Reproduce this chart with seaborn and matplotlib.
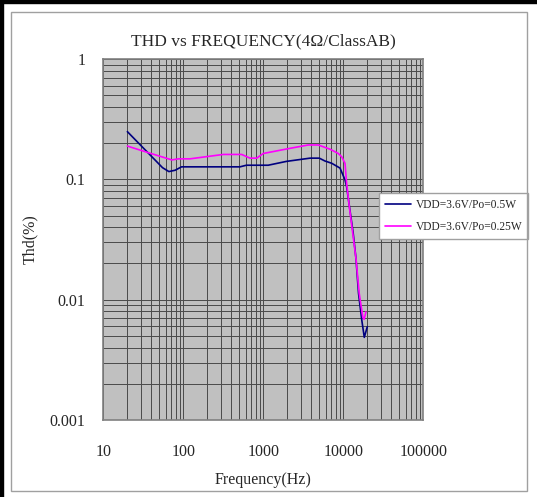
import numpy as np
import pandas as pd
import matplotlib
matplotlib.use("Agg")
import matplotlib.pyplot as plt
from matplotlib.patches import Rectangle
from matplotlib.ticker import LogLocator, FixedLocator, NullFormatter
import seaborn as sns

# data
freq_05w = [20, 35, 55, 66, 79, 95, 200, 511, 615, 1150, 1950, 3840, 5010, 5900,
            7160, 9100, 10500, 11000, 12100, 13300, 14400, 15500, 17000, 18300, 19950]
thd_05w = [0.249, 0.170, 0.125, 0.116, 0.119, 0.127, 0.127, 0.127, 0.131, 0.131, 0.141,
           0.150, 0.150, 0.142, 0.136, 0.124, 0.099, 0.087, 0.0556, 0.0356, 0.022,
           0.0113, 0.0068, 0.00486, 0.00596]

freq_025w = [20, 35, 72, 87, 121, 316, 537, 682, 827, 1000, 2160, 3650, 4870, 6820,
             8660, 9550, 10500, 11000, 11900, 13300, 14400, 15800, 17500, 18200, 19200]
thd_025w = [0.189, 0.168, 0.145, 0.148, 0.148, 0.161, 0.161, 0.150, 0.150, 0.164, 0.181,
            0.193, 0.193, 0.178, 0.164, 0.154, 0.136, 0.093, 0.059, 0.0333, 0.022,
            0.0113, 0.0072, 0.00686, 0.0079]

series_labels = ["VDD=3.6V/Po=0.5W", "VDD=3.6V/Po=0.25W"]
series_colors = ["#000080", "#FF00FF"]

x_ticks = [10, 100, 1000, 10000, 100000]
x_ticklabels = ["10", "100", "1000", "10000", "100000"]
y_ticks = [0.001, 0.01, 0.1, 1]
y_ticklabels = ["0.001", "0.01", "0.1", "1"]

df = pd.concat([
    pd.DataFrame({"freq": freq_05w, "thd": thd_05w, "series": series_labels[0]}),
    pd.DataFrame({"freq": freq_025w, "thd": thd_025w, "series": series_labels[1]}),
])

sns.set_style("white")
plt.rcParams["font.family"] = ["Liberation Serif", "DejaVu Serif"]

fig = plt.figure(figsize=(5.37, 4.97), dpi=100)
ax = fig.add_axes([103.3 / 537, 1 - 420 / 497, 320 / 537, 361 / 497])
ax.set_facecolor("#C0C0C0")

sns.lineplot(data=df, x="freq", y="thd", hue="series", palette=series_colors,
             sort=False, estimator=None, linewidth=1.2, ax=ax)

ax.set_xscale("log")
ax.set_yscale("log")
ax.set_xlim(10, 100000)
ax.set_ylim(0.001, 1)

ax.xaxis.set_major_locator(FixedLocator(x_ticks))
ax.set_xticklabels(x_ticklabels)
ax.yaxis.set_major_locator(FixedLocator(y_ticks))
ax.set_yticklabels(y_ticklabels)
ax.xaxis.set_minor_locator(LogLocator(base=10, subs=np.arange(2, 10)))
ax.yaxis.set_minor_locator(LogLocator(base=10, subs=np.arange(2, 10)))
ax.xaxis.set_minor_formatter(NullFormatter())
ax.yaxis.set_minor_formatter(NullFormatter())

ax.grid(True, which="both", color="#4a4a4a", linewidth=0.7)
ax.tick_params(which="both", length=0, labelsize=11.5)
ax.tick_params(axis="x", pad=17)
ax.tick_params(axis="y", pad=13)
for s in ax.spines.values():
    s.set_color("#808080")
    s.set_linewidth(1.2)

ax.set_title("THD vs FREQUENCY(4Ω/ClassAB)", fontsize=12.5, pad=10)
ax.set_xlabel("Frequency(Hz)", fontsize=11.5, labelpad=9)
ax.set_ylabel("Thd(%)", fontsize=11.5, labelpad=8)

leg = ax.legend(loc="upper left", bbox_to_anchor=(379 / 537, 1 - 193 / 497),
                bbox_transform=fig.transFigure, fontsize=8.3, frameon=True,
                fancybox=False, handlelength=2.3, borderpad=0.5, labelspacing=0.9,
                handletextpad=0.4, borderaxespad=0)
leg.get_frame().set_edgecolor("#A0A0A0")
leg.get_frame().set_facecolor("white")
leg.get_frame().set_alpha(1)

# outer frame of the chart
fig.patches.append(Rectangle((11 / 537, 1 - 491 / 497), 516 / 537, 479 / 497,
                             transform=fig.transFigure, fill=False,
                             edgecolor="#A0A0A0", linewidth=1))
fig.patches.append(Rectangle((0, 0), 3 / 537, 1, transform=fig.transFigure,
                             color="black"))
fig.patches.append(Rectangle((0, 1 - 3 / 497), 1, 3 / 497, transform=fig.transFigure,
                             color="black"))

fig.savefig("out.png", dpi=100)
